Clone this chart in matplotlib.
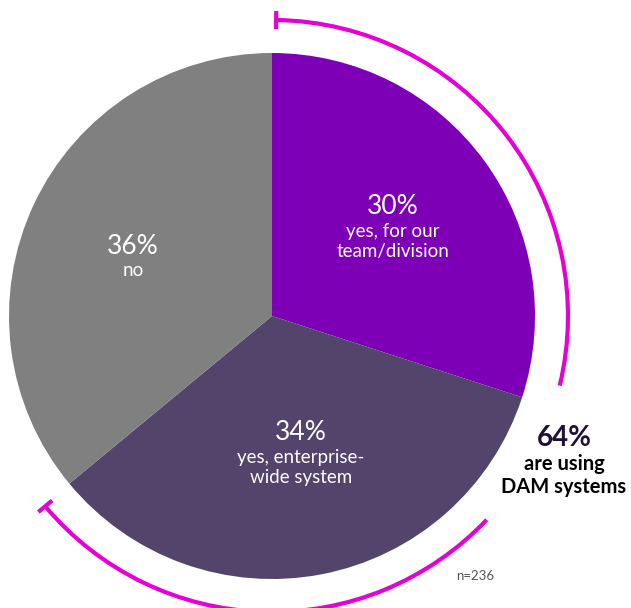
import matplotlib.pyplot as plt
import numpy as np
from matplotlib.patches import Arc

# data
shares = [30, 34, 36]
pcts = ['30%', '34%', '36%']
names = ['yes, for our\nteam/division', 'yes, enterprise-\nwide system', 'no']
colors = ['#7E00B6', '#52446B', '#808080']
using_share = 64
sample_note = 'n=236'

plt.rcParams['font.family'] = ['Lato', 'DejaVu Sans']

W, H = 631, 608
fig = plt.figure(figsize=(W / 100, H / 100), dpi=100)
ax = fig.add_axes([0, 0, 1, 1])

cx, cy, r = 272, H - 316, 263
ax.pie(shares, colors=colors, startangle=90, counterclock=False,
       center=(cx, cy), radius=r, wedgeprops=dict(linewidth=0), frame=True)
ax.set_xlim(0, W)
ax.set_ylim(0, H)
ax.set_aspect('equal')
ax.axis('off')

# labels inside slices (pixel positions from the top)
label_pos = [(393, 207), (301, 433), (133, 247)]
for (x, y), p, n in zip(label_pos, pcts, names):
    ax.text(x, H - y, p, color='white', fontsize=19, ha='center', va='center')
    for i, line in enumerate(n.split('\n')):
        ax.text(x, H - (y + 24 + 21 * i), line, color='white', fontsize=13.5,
                ha='center', va='center')

# magenta arc around the "using" share
mag = '#E600D6'
ra = 296
a_start = 90 - 0.8
a_end = 90 - using_share / 100 * 360 + 0.4
gap_hi, gap_lo = -13.6, -43.5
ax.add_patch(Arc((cx, cy), 2 * ra, 2 * ra, theta1=gap_hi, theta2=a_start,
                 color=mag, lw=3))
ax.add_patch(Arc((cx, cy), 2 * ra, 2 * ra, theta1=a_end, theta2=gap_lo,
                 color=mag, lw=3))
for a in (a_start, a_end):
    t = np.radians(a)
    ax.plot([cx + (ra - 9) * np.cos(t), cx + (ra + 9) * np.cos(t)],
            [cy + (ra - 9) * np.sin(t), cy + (ra + 9) * np.sin(t)],
            color=mag, lw=3, solid_capstyle='butt')

ax.text(564, H - 438, f'{using_share}%', color='#1E1038', fontsize=20,
        fontweight='bold', ha='center', va='center')
ax.text(564, H - 464, 'are using', color='black', fontsize=14.5,
        fontweight='bold', ha='center', va='center')
ax.text(564, H - 487, 'DAM systems', color='black', fontsize=14.5,
        fontweight='bold', ha='center', va='center')

ax.text(475, H - 576, sample_note, color='#555555', fontsize=9.5,
        ha='center', va='center')

fig.savefig('out.png', dpi=100)
